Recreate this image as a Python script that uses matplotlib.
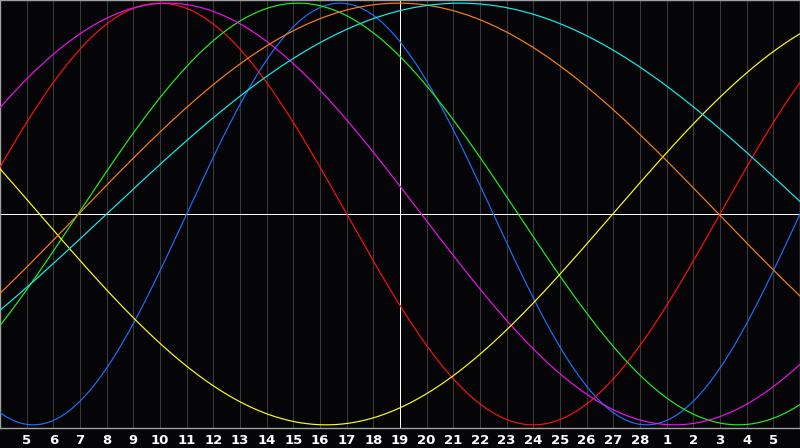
import numpy as np
import matplotlib
matplotlib.use('Agg')
import matplotlib.pyplot as plt

# day labels along the bottom (one per grid line)
day_labels = [str(d) for d in range(5, 29)] + [str(d) for d in range(1, 6)]
today_index = 15  # label "19", marked with the white vertical line

# cycles: period in days and the day index where each curve rises through zero
cycle_names = ['physical', 'emotional', 'intellectual', 'intuitive',
               'aesthetic', 'awareness', 'spiritual']
periods = [23, 28, 33, 38, 43, 48, 53]
rising_zero = [7.0, 27.0, 2.93, 34.8, 22.98, 2.95, 4.0]
colors = ['#1e6eff', '#ff1010', '#20f020', '#f010f0',
          '#ffff10', '#ff8010', '#10f0f0']

n_days = len(day_labels) + 1
px = 0.72  # one pixel at 100 dpi

fig = plt.figure(figsize=(8, 4.48), dpi=100, facecolor='#050508')
ax = fig.add_axes([0, 20 / 448, 1, 428 / 448])
ax.set_facecolor('#050508')

# day grid
for k in range(1, n_days):
    c = 'white' if k == today_index else '#3a3a3a'
    ax.axvline(k, color=c, linewidth=px, zorder=1, antialiased=False)
ax.axhline(0, color='white', linewidth=px, zorder=1, antialiased=False)

t = np.linspace(0, n_days, 1600)
for name, p, z, c in zip(cycle_names, periods, rising_zero, colors):
    ax.plot(t, np.sin(2 * np.pi * (t - z) / p), color=c, linewidth=0.85,
            label=name, zorder=3)

ax.set_xlim(0, n_days)
ax.set_ylim(-1.015, 1.015)
ax.set_yticks([])
ax.set_xticks(range(1, n_days))
ax.set_xticklabels(day_labels, color='white', fontsize=9.5, fontweight='bold',
                   family='DejaVu Sans')
ax.tick_params(axis='x', length=0, pad=4)

for s in ax.spines.values():
    s.set_color('#a0a0a0')
    s.set_linewidth(1.0)

fig.savefig('out.png', dpi=100, facecolor=fig.get_facecolor())
